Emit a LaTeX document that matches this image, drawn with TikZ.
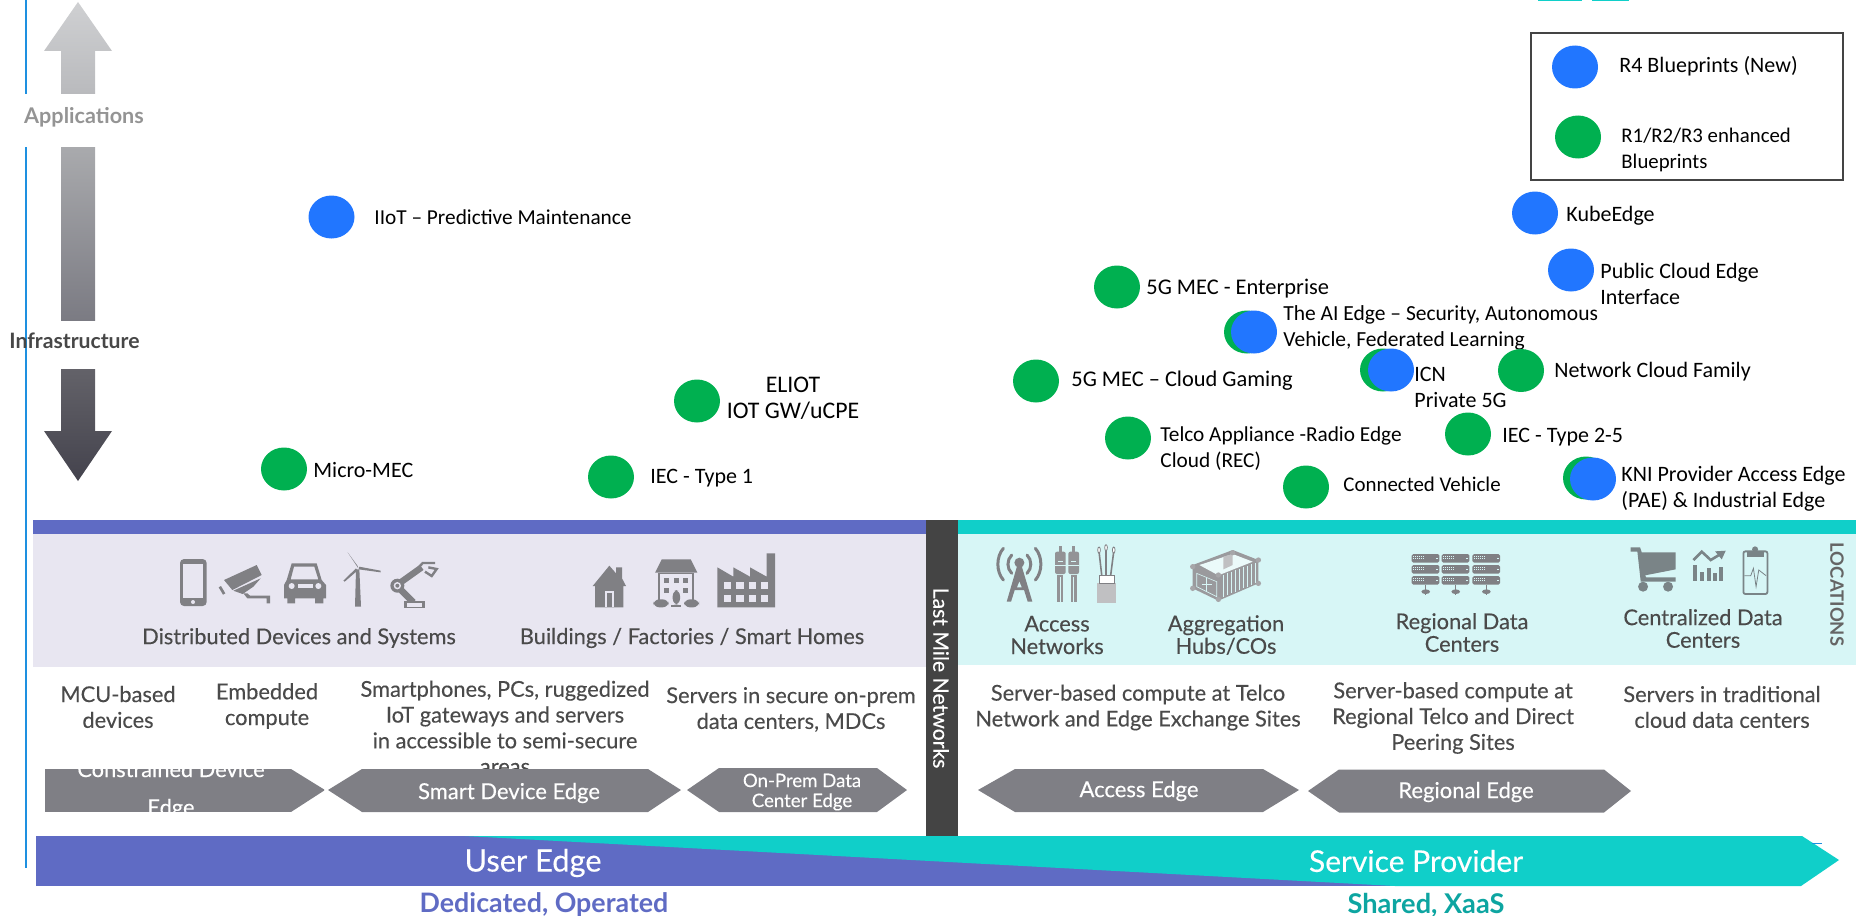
\documentclass[tikz,border=0pt]{standalone}
\usepackage{fontspec}
\setmainfont{Lato}
\newfontfamily\gill[Ligatures=TeX]{Carlito}
\newfontfamily\prox[Ligatures=TeX,FakeBold=0.25]{Lato}
\usetikzlibrary{shapes.geometric}
\definecolor{vlblue}{HTML}{1E90E0}
\definecolor{purp}{HTML}{5F6BC4}
\definecolor{lav}{HTML}{E8E6F1}
\definecolor{teal}{HTML}{10CFC9}
\definecolor{lteal}{HTML}{D7F6F6}
\definecolor{darkbar}{HTML}{444444}
\definecolor{hexg}{HTML}{7F7F85}
\definecolor{ico}{HTML}{808084}
\definecolor{txtg}{HTML}{4A4A4A}
\definecolor{bdot}{HTML}{2176FF}
\definecolor{gdot}{HTML}{00B050}
\tikzset{
  dotb/.style={ellipse,fill=bdot,minimum width=23pt,minimum height=21.5pt,inner sep=0},
  dotg/.style={ellipse,fill=gdot,minimum width=23pt,minimum height=21.5pt,inner sep=0},
  bp/.style={anchor=west,inner sep=0,align=left,text=black,font=\gill\fontsize{11}{13}\selectfont},
  bps/.style={bp,font=\gill\fontsize{#1}{13}\selectfont},
  gt/.style={inner sep=0,align=center,text=txtg,font=\prox\fontsize{10.9}{12.9}\selectfont},
  gl/.style={inner sep=0,align=center,text=txtg,font=\prox\fontsize{10.9}{11.3}\selectfont},
  hx/.style={fill=hexg,draw=none},
  wt/.style={inner sep=0,align=center,text=white,font=\prox\fontsize{11}{11}\selectfont},
  Z/.style={x=0.166667pt,y=-0.166667pt,shift={(#1,1530)}},
  ic/.style={fill=ico,draw=none}
}
\begin{document}
\begin{tikzpicture}[x=0.5pt,y=-0.5pt]
\useasboundingbox (0,0) rectangle (1856,915);
% side rule
\draw[vlblue,line width=1pt] (25.5,0) -- (25.5,94);
\draw[vlblue,line width=1pt] (25.5,147) -- (25.5,868);
% stray bars at top
\fill[teal] (1538,0) rectangle (1582,1.2);
\fill[teal] (1592,0) rectangle (1629,1.2);
% vertical arrows
\definecolor{g1}{HTML}{CFD0D2}\definecolor{g2}{HTML}{B9BABD}
\definecolor{g3}{HTML}{A9AAAD}\definecolor{g4}{HTML}{7B7B83}
\definecolor{g5}{HTML}{636269}\definecolor{g6}{HTML}{44434D}
\shade[top color=g1,bottom color=g2] (78,2) -- (112,51) -- (95,51) -- (95,94) -- (61,94) -- (61,51) -- (44,51) -- cycle;
\shade[top color=g3,bottom color=g4] (61,147) rectangle (95,320);
\shade[top color=g5,bottom color=g6] (61,369) -- (95,369) -- (95,431) -- (112,431) -- (78,481) -- (44,431) -- (61,431) -- cycle;
\node[inner sep=0,text=black!42,font=\bfseries\fontsize{10.8}{12}\selectfont] (apps) at (84,117.5) {Applications};
\node[inner sep=0,text=black!72,font=\bfseries\fontsize{10.6}{12}\selectfont] (infra) at (74.5,341) {Infrastructure};
% bands
\fill[purp] (33,520) rectangle (926,534);
\fill[lav] (33,534) rectangle (926,667);
\fill[teal] (958,520) rectangle (1856,534);
\fill[lteal] (958,534) rectangle (1856,665);
\fill[darkbar] (926,520) rectangle (958,836);
% bottom arrow
\fill[purp] (36,836) rectangle (1395,886);
\fill[teal] (465,836) -- (1802,836) -- (1839,860) -- (1801,886) -- (1395,886) -- cycle;
\fill[vlblue] (1812,843) rectangle (1822,844.2);
\node[wt,font=\prox\fontsize{15.4}{16}\selectfont] (useredge) at (533,863) {User Edge};
\node[wt,font=\prox\fontsize{15}{16}\selectfont] (sp) at (1416,861) {Service Provider};
\node[inner sep=0,text=purp,font=\bfseries\fontsize{13.4}{14}\selectfont] (ded) at (544,905) {Dedicated, Operated};
\node[inner sep=0,text=teal!80!black,font=\bfseries\fontsize{13.6}{14}\selectfont] (shared) at (1426,905) {Shared, XaaS};
% band titles
\node[gt] (dds) at (299,638) {Distributed Devices and Systems};
\node[gt] (bfs) at (692,638) {Buildings / Factories / Smart Homes};
\node[gl] (an) at (1057,635) {Access\\Networks};
\node[gl] (ah) at (1226,635) {Aggregation\\Hubs/COs};
\node[gl] (rd) at (1462,632.5) {Regional Data\\Centers};
\node[gl] (cd) at (1703,628.5) {Centralized Data\\Centers};
\node[inner sep=0,text=txtg!85!white,rotate=-90,font=\bfseries\fontsize{9.2}{10}\selectfont] (loc) at (1837,594.5) {LOCATIONS};
\node[inner sep=0,text=white,rotate=-90,font=\prox\fontsize{10.6}{12}\selectfont] (lm) at (941,678) {Last Mile Networks};
% descriptions
\node[gt] (d1) at (118,707) {MCU-based\\devices};
\node[gt] (d2) at (267,706) {Embedded\\compute};
\node[gt] (d3) at (505,727.5) {Smartphones, PCs, ruggedized\\IoT gateways and servers\\in accessible to semi-secure\\areas};
\node[gt] (d4) at (791,709.5) {Servers in secure on-prem\\data centers, MDCs};
\node[gt] (d5) at (1138,707.5) {Server-based compute at Telco\\Network and Edge Exchange Sites};
\node[gt] (d6) at (1453,718) {Server-based compute at\\Regional Telco and Direct\\Peering Sites};
\node[gt] (d7) at (1722,707) {Servers in traditional\\cloud data centers};
% edge hexagons
\begin{scope}
\path[clip] (45,769) -- (291,769) -- (325,790) -- (291,812) -- (45,812) -- cycle;
\fill[hexg] (45,769) rectangle (325,812);
\node[wt,font=\prox\fontsize{10.9}{19}\selectfont] (h1) at (171,790) {Constrained Device\\Edge};
\end{scope}
\fill[hx] (328,790) -- (362,769) -- (648,769) -- (681,790) -- (648,812) -- (362,812) -- cycle;
\node[wt] (h2) at (509,793) {Smart Device Edge};
\fill[hx] (687,790) -- (719,768) -- (877,768) -- (907,790) -- (877,812) -- (719,812) -- cycle;
\node[wt,font=\prox\fontsize{9.3}{10}\selectfont] (h3) at (802,792) {On-Prem Data\\Center Edge};
\fill[hx] (978,790) -- (1015,769) -- (1263,769) -- (1299,790) -- (1263,812) -- (1015,812) -- cycle;
\node[wt] (h4) at (1139,791) {Access Edge};
\fill[hx] (1308,791) -- (1339,769.5) -- (1604,769.5) -- (1631,791) -- (1604,812.5) -- (1339,812.5) -- cycle;
\node[wt] (h5) at (1466,792) {Regional Edge};
% legend
\draw[darkbar,line width=0.75pt] (1531,33) rectangle (1843,180);
\node[dotb] (lb) at (1575,67) {};
\node[dotg] (lg) at (1578,137) {};
\node[bp] (lt1) at (1619,66) {R4 Blueprints (New)};
\node[bps=10.4] (lt2) at (1621,150) {R1/R2/R3 enhanced\\Blueprints};
% blueprints
\node[dotb] (c1) at (331.5,217) {};
\node[bps=10.65] (t1) at (374,217) {IIoT – Predictive Maintenance};
\node[dotg] (c2) at (284,469) {};
\node[bp] (t2) at (313,470) {Micro-MEC};
\node[dotg] (c3) at (611,477) {};
\node[bp] (t3) at (650,478) {IEC - Type 1};
\node[dotg] (c4) at (697,401) {};
\node[bps=11.9,anchor=center,align=center] (t4) at (793,398.5) {ELIOT\\IOT GW/uCPE};
\node[dotg] (c5) at (1117,287) {};
\node[bps=11.2] (t5) at (1146,289) {5G MEC - Enterprise};
\node[dotg] (c6) at (1247,332) {};
\node[dotb] (c6b) at (1254,332) {};
\node[bps=10.75] (t6) at (1283,328) {The AI Edge – Security, Autonomous\\Vehicle, Federated Learning};
\node[dotg] (c7) at (1036,381) {};
\node[bps=11.2] (t7) at (1071,381) {5G MEC – Cloud Gaming};
\node[dotg] (c8) at (1383,370) {};
\node[dotb] (c8b) at (1391,370) {};
\node[bp] (t8) at (1414,387.5) {ICN\\Private 5G};
\node[dotg] (c9) at (1128,438) {};
\node[bps=10.65] (t9) at (1160,449) {Telco Appliance -Radio Edge\\Cloud (REC)};
\node[dotg] (c10) at (1306,487) {};
\node[bps=10.45] (t10) at (1343,484) {Connected Vehicle};
\node[dotg] (c11) at (1468,434) {};
\node[bp] (t11) at (1502,437) {IEC - Type 2-5};
\node[dotg] (c12) at (1521,370.5) {};
\node[bp] (t12) at (1554,372) {Network Cloud Family};
\node[dotg] (c13) at (1586,478) {};
\node[dotb] (c13b) at (1593,479) {};
\node[bp] (t13) at (1621,488.5) {KNI Provider Access Edge\\(PAE) \& Industrial Edge};
\node[dotb] (c14) at (1535,213) {};
\node[bp] (t14) at (1566,215.5) {KubeEdge};
\node[dotb] (c15) at (1571,270) {};
\node[bp] (t15) at (1600,284) {Public Cloud Edge\\Interface};
% ---- icons, left band (zoom frame 0,510)
\begin{scope}[Z=0]
 % phone
 \fill[ic,rounded corners=2pt] (540,147) rectangle (620,288);
 \fill[lav] (549,163) rectangle (610,265);
 \fill[lav] (579,276) circle (6);
 % camera
 \fill[ic] (672,210) -- (770,165) -- (785,195) -- (697,240) -- cycle;
 \fill[ic] (700,242) -- (782,205) -- (760,230) -- (728,252) -- cycle;
 \fill[ic] (656,232) -- (663,228) -- (676,250) -- (669,254) -- cycle;
 \fill[ic] (730,250) -- (742,250) -- (750,257) -- (810,257) -- (810,280) -- (800,280) -- (800,265) -- (742,265) -- cycle;
 % car
 \fill[ic,even odd rule] (875,160) -- (950,160) -- (965,210) -- (978,225) -- (978,265) -- (970,265) -- (970,280) -- (945,280) -- (945,265) -- (885,265) -- (885,280) -- (862,280) -- (862,265) -- (852,265) -- (852,225) -- (860,210) -- cycle
   (882,170) -- (943,170) -- (955,208) -- (872,208) -- cycle;
 \fill[lav] (875,228) circle (9);
 \fill[lav] (955,228) circle (9);
 \fill[lav] (895,222) rectangle (938,235);
 % wind turbine
 \fill[ic] (1068,178) -- (1078,178) -- (1083,290) -- (1065,290) -- cycle;
 \fill[ic] (1073,168) -- (1043,127) -- (1075,175) -- cycle;
 \fill[ic] (1078,170) -- (1142,182) -- (1142,187) -- (1076,178) -- cycle;
 \fill[ic] (1068,175) -- (1030,212) -- (1034,215) -- (1072,182) -- cycle;
 % robot arm
 \draw[ico,line width=3.2pt] (1195,222) -- (1265,172);
 \draw[ico,line width=3.2pt] (1195,232) -- (1240,277);
 \fill[ic] (1212,272) rectangle (1275,295);
 \fill[lav] (1220,280) rectangle (1267,290);
 \fill[ic] (1192,227) circle (21);
 \fill[lav] (1192,227) circle (11);
 \fill[ic] (1192,227) circle (6);
 \draw[ico,line width=1.2pt] (1258,170) -- (1268,159) -- (1305,159);
 \draw[ico,line width=1.2pt] (1275,185) -- (1295,198) -- (1310,177) -- (1285,172);
\end{scope}
\begin{scope}[Z=1440]
 % house
 \fill[ic] (338,228) -- (388,167) -- (408,190) -- (408,172) -- (426,172) -- (426,205) -- (438,228) -- (430,228) -- (430,292) -- (345,292) -- (345,228) -- cycle;
 \fill[lav] (376,243) rectangle (402,292);
 \fill[ic] (382,250) rectangle (396,292);
 % town house
 \fill[ic] (545,148) -- (632,148) -- (652,188) -- (525,188) -- cycle;
 \fill[ic] (533,188) rectangle (643,270);
 \fill[lav] (541,192) rectangle (635,283);
 \fill[ic] (553,205) rectangle (568,220); \fill[ic] (581,205) rectangle (596,220); \fill[ic] (609,205) rectangle (624,220);
 \fill[ic] (553,235) rectangle (568,250); \fill[ic] (609,235) rectangle (624,250);
 \fill[ic,rounded corners=3pt] (578,240) rectangle (600,284);
 \fill[ic,rounded corners=3pt] (520,268) rectangle (566,292);
 \fill[ic,rounded corners=3pt] (612,268) rectangle (657,292);
 \fill[ic] (574,286) rectangle (604,291);
 % factory
 \fill[ic] (712,292) -- (712,172) -- (760,200) -- (760,172) -- (810,200) -- (810,172) -- (860,200) -- (860,130) -- (885,130) -- (885,292) -- cycle;
 \foreach \xx in {732,769,806,843} {
   \fill[lav] (\xx,217) rectangle ++(22,21);
   \fill[lav] (\xx,254) rectangle ++(22,21);
 }
\end{scope}
% ---- icons, right band
\begin{scope}[Z=2850]
 % antenna
 \draw[ico,line width=1.5pt,line cap=round] (160,115) .. controls (138,140) and (138,185) .. (160,210);
 \draw[ico,line width=1.5pt,line cap=round] (185,135) .. controls (170,150) and (170,175) .. (185,190);
 \draw[ico,line width=1.5pt,line cap=round] (256,115) .. controls (278,140) and (278,185) .. (256,210);
 \draw[ico,line width=1.5pt,line cap=round] (231,135) .. controls (246,150) and (246,175) .. (231,190);
 \fill[ic] (208,158) circle (15);
 \fill[ic] (202,165) -- (214,165) -- (247,275) -- (233,275) -- (222,240) -- (194,240) -- (183,275) -- (170,275) -- cycle;
 \fill[lteal] (208,215) -- (215,232) -- (201,232) -- cycle;
 % RCA plugs
 \foreach \xx in {331,371} {
   \fill[ico!85!white] (\xx-5,108) rectangle (\xx+5,125);
   \fill[ico!85!white,rounded corners=1pt] (\xx-16,125) rectangle (\xx+16,192);
   \fill[lteal] (\xx-8,152) rectangle (\xx+8,155);
   \fill[ico!85!white] (\xx-9,196) rectangle (\xx+9,275);
   \fill[lteal] (\xx-2,200) rectangle (\xx+2,275);
   \fill[lteal] (\xx-16,166) rectangle (\xx+16,169);
 }
 % fibre cable
 \fill[ico!50!white] (442,220) rectangle (497,278);
 \draw[ico,fill=white,line width=0.4pt] (447,195) rectangle (492,220);
 \draw[ico,line width=0.8pt] (455,195) -- (447,125);
 \draw[ico,line width=0.8pt] (468,195) -- (468,115);
 \draw[ico,line width=0.8pt] (482,195) -- (491,125);
 \draw[ico,fill=white,line width=0.4pt] (447,120) ellipse (4 and 9);
 \draw[ico,fill=white,line width=0.4pt] (468,113) ellipse (4 and 9);
 \draw[ico,fill=white,line width=0.4pt] (491,120) ellipse (4 and 9);
 % container
 \fill[ico!80!white] (728,165) -- (848,120) -- (925,150) -- (925,220) -- (805,272) -- (728,235) -- cycle;
 \fill[lteal!50!white] (748,165) -- (848,132) -- (908,155) -- (805,196) -- cycle;
 \fill[ico!50!white] (820,140) -- (848,132) -- (848,165) -- (820,178) -- cycle;
 \foreach \xx in {820,832,844,856,868,880,892,904,916}
   \draw[lteal,line width=0.25pt] (\xx,{200-(\xx-805)*0.37}) -- (\xx,{266-(\xx-805)*0.42});
 \draw[lteal,line width=0.3pt] (740,190) -- (800,215) -- (800,260) -- (740,230) -- cycle;
 \draw[lteal,line width=0.3pt] (770,205) -- (770,245);
 \draw[lteal,line width=0.3pt] (755,222) -- (785,222);
 \foreach \px/\py in {848/128,925/150,925/220,805/268,728/235,728/170,805/195} \fill[ico!70!white] (\px,\py) circle (8);
\end{scope}
\begin{scope}[Z=4200]
 % servers
 \foreach \xx in {35,125,217} {
  \foreach \yy in {132,165,198} {
   \fill[ic,rounded corners=0.8pt] (\xx,\yy) rectangle ++(83,26);
   \fill[lteal] (\xx+74,\yy+11) rectangle ++(5,5);
   \foreach \dd in {0,6,12,18,24,30} {
     \fill[lteal] (\xx+4+\dd,\yy+6) rectangle ++(3,3);
     \fill[lteal] (\xx+4+\dd,\yy+13) rectangle ++(3,3);
   }
  }
  \draw[ico,line width=0.6pt] (\xx+42,224) -- (\xx+42,255);
  \fill[ic] (\xx+42,245) ellipse (13 and 7);
 }
 % cart
 \fill[ico!95!teal] (692,112) -- (720,112) -- (725,127) -- (827,127) -- (827,178) -- (735,196) -- (738,202) -- (827,202) -- (827,215) -- (722,215) -- (712,125) -- (692,125) -- cycle;
 \fill[ico!95!teal] (729,230) circle (15);
 \fill[ico!95!teal] (804,230) circle (15);
 % chart
 \fill[ico!95!teal] (880,165) rectangle (892,212);
 \fill[ico!95!teal] (900,185) rectangle (911,212);
 \fill[ico!95!teal] (920,175) rectangle (932,212);
 \fill[ico!95!teal] (940,188) rectangle (950,212);
 \fill[ico!95!teal] (958,170) rectangle (970,212);
 \draw[ico!95!teal,line width=1.3pt] (880,150) -- (905,125) -- (932,150) -- (965,130);
 \fill[ico!95!teal] (945,124) -- (977,122) -- (965,148) -- cycle;
 % clipboard
 \draw[ico!95!teal,line width=0.9pt,rounded corners=1pt] (1030,124) rectangle (1102,252);
 \fill[ico!95!teal] (1040,122) rectangle (1092,140);
 \fill[ico!95!teal] (1065,118) circle (9);
 \draw[ico!95!teal,line width=0.4pt] (1033,197) -- (1052,197) -- (1060,175) -- (1068,230) -- (1076,180) -- (1098,197);
\end{scope}
\end{tikzpicture}
\end{document}
